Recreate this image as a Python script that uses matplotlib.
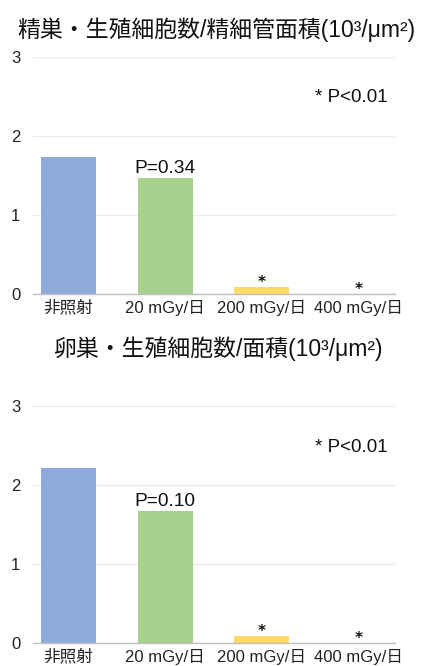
import matplotlib
matplotlib.use("Agg")
import matplotlib.pyplot as plt

# 欧文は Liberation Sans、和文は Noto Sans CJK JP
plt.rcParams['font.family'] = ['Liberation Sans', 'Noto Sans CJK JP', 'DejaVu Sans']

# データ
categories = ["非照射", "20 mGy/日", "200 mGy/日", "400 mGy/日"]
testis_values = [1.73, 1.47, 0.09, 0.0]
ovary_values = [2.22, 1.67, 0.09, 0.0]
bar_colors = ["#8eaadb", "#a9d18e", "#ffd966", "#f4b183"]
testis_title = "精巣・生殖細胞数/精細管面積(10³/μm²)"
ovary_title = "卵巣・生殖細胞数/面積(10³/μm²)"
testis_p = "P=0.34"
ovary_p = "P=0.10"
yticks = [0, 1, 2, 3]

fig = plt.figure(figsize=(4.27, 6.66), dpi=100)
ax1 = fig.add_axes([0.077, 0.5586, 0.848, 0.356])
ax2 = fig.add_axes([0.077, 0.0345, 0.848, 0.356])


def draw(ax, values, ptext):
    x = range(len(categories))
    ax.bar(x, values, width=0.57, color=bar_colors, zorder=3)
    ax.set_xlim(-0.37, 3.38)
    ax.set_ylim(0, 3)
    ax.set_yticks(yticks)
    ax.set_xticks(list(x))
    ax.set_xticklabels(categories)
    ax.tick_params(axis='both', length=0, labelsize=12, colors='#222222')
    ax.tick_params(axis='y', pad=9)
    ax.tick_params(axis='x', pad=4)
    ax.grid(axis='y', color='#ececec', linewidth=1, zorder=0)
    for s in ['top', 'right', 'left']:
        ax.spines[s].set_visible(False)
    ax.spines['bottom'].set_color('#bfbfbf')
    ax.spines['bottom'].set_linewidth(1)
    ax.spines['bottom'].set_zorder(4)
    ax.annotate(ptext, (1, values[1]), xytext=(0, 0.5), textcoords='offset points',
                ha='center', va='bottom', fontsize=13.8, color='#111111')
    for i in (2, 3):
        ax.annotate("*", (i, values[i]), xytext=(0, -2), textcoords='offset points',
                    ha='center', va='bottom', fontsize=11, fontweight='bold', color='#111111',
                    family='DejaVu Sans')
    ax.text(3.3, 2.48, "* P<0.01", ha='right', va='center', fontsize=13.5, color='#111111')


draw(ax1, testis_values, testis_p)
draw(ax2, ovary_values, ovary_p)

fig.text(0.506, 0.955, testis_title, ha='center', va='center', fontsize=16.5, color='#111111')
fig.text(0.51, 0.477, ovary_title, ha='center', va='center', fontsize=16.5, color='#111111')

fig.savefig("out.png", dpi=100)
